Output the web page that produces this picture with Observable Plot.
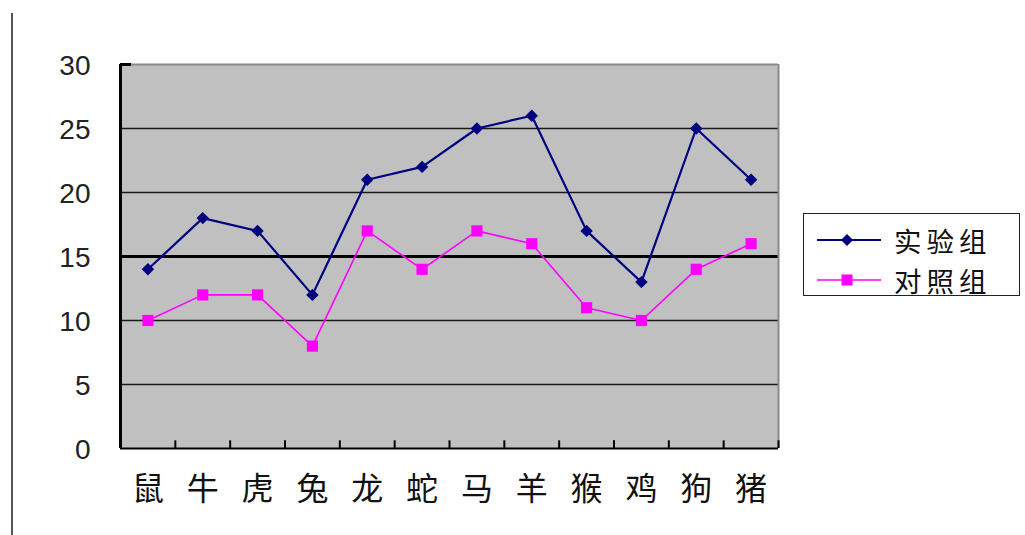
<!DOCTYPE html>
<html>
<head>
<meta charset="utf-8">
<script src="https://cdn.jsdelivr.net/npm/d3@7"></script>
<script src="https://cdn.jsdelivr.net/npm/@observablehq/plot@0.6"></script>
<style>
  html, body { margin: 0; padding: 0; background: #fff; }
  #wrap { position: relative; width: 1025px; height: 535px; overflow: hidden; }
  #edge { position: absolute; left: 11px; top: 13px; width: 2px; height: 522px; background: #555; }
  #legend { position: absolute; left: 803px; top: 213px; width: 215px; height: 81px;
            border: 1.5px solid #222; background: #fff; font-family: "Noto Sans CJK SC", sans-serif; }
  .row { position: absolute; left: 13px; height: 32px; display: flex; align-items: center; }
  .row svg { display: block; }
  .row span { font-size: 27.5px; line-height: 32px; color: #111; margin-left: 13px; letter-spacing: 5px; }
</style>
</head>
<body>
<div id="wrap">
  <div id="edge"></div>
  <div id="chart"></div>
  <div id="legend"></div>
</div>
<script>
const categories = ["鼠","牛","虎","兔","龙","蛇","马","羊","猴","鸡","狗","猪"];
const experimental = [14, 18, 17, 12, 21, 22, 25, 26, 17, 13, 25, 21];
const control = [10, 12, 12, 8, 17, 14, 17, 16, 11, 10, 14, 16];
const yTicks = [0, 5, 10, 15, 20, 25, 30];
const seriesNames = ["实验组", "对照组"];
const seriesColors = ["#000080", "#ff00ff"];

const expData = experimental.map((v, i) => ({x: i + 0.5, v}));
const ctlData = control.map((v, i) => ({x: i + 0.5, v}));
const catTicks = categories.map((c, i) => i + 0.5);
const bounds = d3.range(1, categories.length + 1);

const chart = Plot.plot({
  width: 1025,
  height: 535,
  marginLeft: 120,
  marginRight: 247,
  marginTop: 64,
  marginBottom: 87,
  style: {background: "transparent", fontFamily: "Liberation Sans, sans-serif"},
  x: {domain: [0, categories.length]},
  y: {domain: [0, 30]},
  marks: [
    Plot.frame({fill: "#c0c0c0", stroke: null}),
    Plot.ruleY([5, 10, 20, 25], {stroke: "#1a1a1a", strokeWidth: 1.7}),
    Plot.ruleY([15], {stroke: "#000", strokeWidth: 3}),
    Plot.ruleY([30], {stroke: "#8a8a8a", strokeWidth: 2}),
    Plot.ruleX([categories.length], {stroke: "#8a8a8a", strokeWidth: 2}),
    Plot.ruleY([30], {x1: 0, x2: 0.2, stroke: "#000", strokeWidth: 3}),
    Plot.ruleX(bounds, {y1: 0, y2: 0.6, stroke: "#000", strokeWidth: 2}),
    Plot.ruleX([0], {stroke: "#000", strokeWidth: 3}),
    Plot.ruleY([0], {stroke: "#000", strokeWidth: 2}),
    Plot.line(ctlData, {x: "x", y: "v", stroke: seriesColors[1], strokeWidth: 1.6}),
    Plot.dot(ctlData, {x: "x", y: "v", symbol: "square", r: 6.3, fill: seriesColors[1]}),
    Plot.line(expData, {x: "x", y: "v", stroke: seriesColors[0], strokeWidth: 2.2}),
    Plot.dot(expData, {x: "x", y: "v", symbol: "diamond2", r: 5.6, fill: seriesColors[0]}),
    Plot.axisY(yTicks, {tickSize: 0, tickPadding: 30, fontSize: 28, fill: "#222", label: null, dy: 2,
                        fontFamily: "Liberation Sans, sans-serif"}),
    Plot.axisX(catTicks, {tickSize: 0, tickPadding: 29, fontSize: 32, fill: "#111", label: null,
                          tickFormat: d => categories[Math.floor(d)],
                          fontFamily: "Noto Sans CJK SC, sans-serif"})
  ]
});
document.getElementById("chart").appendChild(chart);

const legend = document.getElementById("legend");
seriesNames.forEach((name, k) => {
  const row = document.createElement("div");
  row.className = "row";
  row.style.top = (k === 0 ? 10 : 50) + "px";
  const sym = k === 0
    ? `<svg width="64" height="20"><line x1="0" y1="10" x2="64" y2="10" stroke="${seriesColors[0]}" stroke-width="2"/><path d="M30,4L36,10L30,16L24,10Z" fill="${seriesColors[0]}"/></svg>`
    : `<svg width="64" height="20"><line x1="0" y1="10" x2="64" y2="10" stroke="${seriesColors[1]}" stroke-width="1.6"/><rect x="24.5" y="4.5" width="11" height="11" fill="${seriesColors[1]}"/></svg>`;
  row.innerHTML = sym + `<span>${name}</span>`;
  legend.appendChild(row);
});
</script>
</body>
</html>
